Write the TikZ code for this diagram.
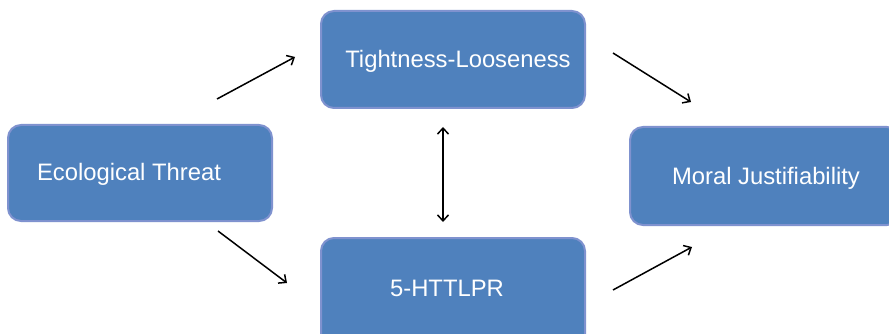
\documentclass[tikz,border=0pt]{standalone}
\usepackage{fontspec}
\setmainfont{Liberation Sans}
\usetikzlibrary{arrows.meta}
\definecolor{boxfill}{HTML}{4F81BD}
\definecolor{boxline}{HTML}{7F92CF}
\tikzset{
  boxstyle/.style={draw=boxline, fill=boxfill, line width=2pt, rounded corners=13pt},
  lbl/.style={text=white, font=\fontsize{23.8}{28}\selectfont, inner sep=0pt, anchor=base},
  arr/.style={line width=1.5pt, -{Straight Barb[length=6pt,width=11pt,line width=1.5pt]}},
  darr/.style={line width=1.5pt, {Straight Barb[length=6pt,width=11pt,line width=1.5pt]}-{Straight Barb[length=6pt,width=11pt,line width=1.5pt]}}
}
\begin{document}
\begin{tikzpicture}[x=1pt,y=-1pt]
\useasboundingbox (0,0) rectangle (889,334);
\fill[white] (0,0) rectangle (889,334);
% boxes
\draw[boxstyle] (8,125) rectangle (272,221);
\draw[boxstyle] (321,11) rectangle (585,108);
\draw[boxstyle] (321,238) rectangle (585,350);
\draw[boxstyle] (630,127) rectangle (900,225);
% labels
\node[lbl] (eco) at (129,181) {Ecological Threat};
\node[lbl] (tl) at (458,68) {Tightness-Looseness};
\node[lbl] (htt) at (447,296) {5-HTTLPR};
\node[lbl] (mj) at (766,185) {Moral Justifiability};
% arrow endpoints
\coordinate (a1s) at (217,99);
\coordinate (a1e) at (295,57);
\coordinate (a2s) at (613,53);
\coordinate (a2e) at (691,102);
\coordinate (a3s) at (218,231);
\coordinate (a3e) at (287,283);
\coordinate (a4s) at (613,290);
\coordinate (a4e) at (692,247);
\coordinate (ds) at (443,127);
\coordinate (de) at (443,222);
\draw[arr] (a1s) -- (a1e);
\draw[arr] (a2s) -- (a2e);
\draw[arr] (a3s) -- (a3e);
\draw[arr] (a4s) -- (a4e);
\draw[darr] (ds) -- (de);
\end{tikzpicture}
\end{document}
